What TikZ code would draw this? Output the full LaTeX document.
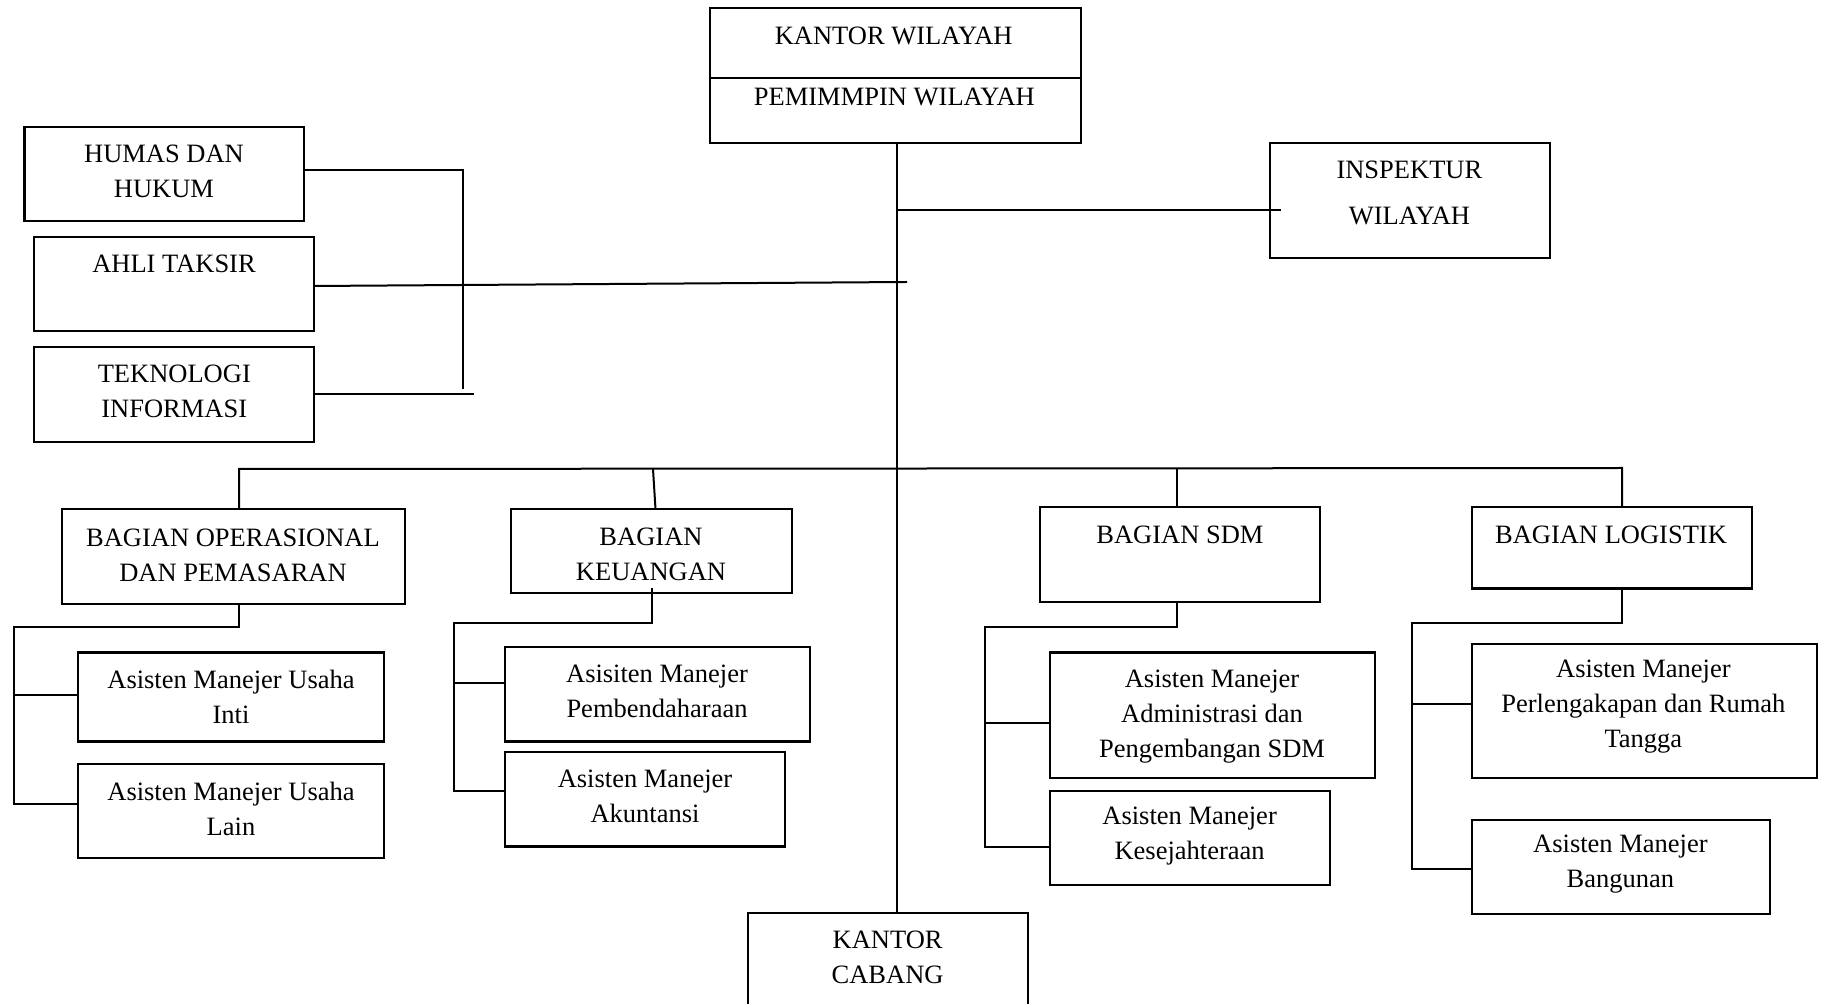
\documentclass[tikz,border=0pt]{standalone}
\usepackage{fontspec}
\setmainfont{Liberation Serif}
\tikzset{
 box/.style={draw, line width=1.1pt, inner sep=0pt, outer sep=0pt},
 txt/.style={inner sep=0pt, align=center, font=\fontsize{13.25}{17.5}\selectfont},
 widetxt/.style={inner sep=0pt, align=center, font=\fontsize{13.25}{23.25}\selectfont},
 conn/.style={line width=1pt},
}
\newcommand\obox[5]{\node[box, minimum width={(#4-#2)*0.5pt}, minimum height={(#5-#3)*0.5pt}] (#1) at ({(#2+#4)/2},{(#3+#5)/2}) {};}
\begin{document}
\begin{tikzpicture}[x=0.5pt,y=-0.5pt]
\useasboundingbox (0,0) rectangle (1824,1004);
\fill[white] (0,0) rectangle (1824,1004);
\clip (0,0) rectangle (1824,1004);
% boxes
\obox{kw}{710}{8}{1081}{143}
\draw[line width=1.1pt] (kw.west |- 0,78) -- (kw.east |- 0,78);
\obox{humas}{24.5}{127}{304}{221}
\obox{ahli}{34}{237}{314}{331}
\obox{tek}{34}{347}{314}{442}
\obox{insp}{1269.6}{143}{1550}{258}
\obox{op}{61.6}{509}{405}{603.7}
\obox{keu}{511}{509}{791.6}{592.8}
\obox{sdm}{1039.7}{507}{1319.6}{602}
\obox{log}{1471.6}{507}{1752}{588.5}
\obox{inti}{78}{652.5}{384}{741.5}
\obox{lain}{78}{763.8}{384}{858}
\obox{pemb}{505}{646.8}{810}{741.5}
\obox{akun}{505}{752}{785}{846.5}
\obox{adm}{1050}{652.5}{1375}{777.6}
\obox{kes}{1050}{790.6}{1329.6}{884.6}
\obox{perl}{1471.6}{643.6}{1817}{777.6}
\obox{bang}{1471.6}{819.6}{1769.8}{913.6}
\obox{kc}{748}{913}{1028}{1012}
% texts
\node[txt] (t-kw) at (893.7,35.8) {KANTOR WILAYAH};
\node[txt] (t-pw) at (894.4,97) {PEMIMMPIN WILAYAH};
\node[txt] (t-hu) at (164,171) {HUMAS DAN\\HUKUM};
\node[txt] (t-ah) at (174,263.8) {AHLI TAKSIR};
\node[txt] (t-te) at (174.3,391.3) {TEKNOLOGI\\INFORMASI};
\node[widetxt] (t-in) at (1409.4,192.8) {INSPEKTUR\\WILAYAH};
\node[txt] (t-op) at (233,555) {BAGIAN OPERASIONAL\\DAN PEMASARAN};
\node[txt] (t-ke) at (651,554) {BAGIAN\\KEUANGAN};
\node[txt] (t-sd) at (1179.9,534.8) {BAGIAN SDM};
\node[txt] (t-lo) at (1611,534.8) {BAGIAN LOGISTIK};
\node[txt] (t-it) at (231,697) {Asisten Manejer Usaha\\Inti};
\node[txt] (t-la) at (231,808.5) {Asisten Manejer Usaha\\Lain};
\node[txt] (t-pe) at (657,691) {Asisiten Manejer\\Pembendaharaan};
\node[txt] (t-ak) at (645,796) {Asisten Manejer\\Akuntansi};
\node[txt] (t-ad) at (1212,717) {Asisten Manejer\\Administrasi dan\\Pengembangan SDM};
\node[txt] (t-ks) at (1189.6,836.5) {Asisten Manejer\\Kesejahteraan};
\node[txt] (t-pl) at (1643.4,706.7) {Asisten Manejer\\Perlengakapan dan Rumah\\Tangga};
\node[txt] (t-bg) at (1620.4,863.8) {Asisten Manejer\\Bangunan};
\node[txt] (t-kc) at (887.6,957) {KANTOR\\CABANG};
% connectors
\draw[conn] (kw.south -| 897,0) -- (kc.north -| 897,0);
\coordinate (ie) at (1281,210);
\draw[conn] (kw.south |- 0,210) -- (ie);
\coordinate (hb) at (463,389);
\draw[conn] (humas.east |- 0,170) -- (463,170) -- (hb);
\coordinate (tb) at (474,394);
\draw[conn] (tek.east |- 0,394) -- (tb);
\coordinate (ab) at (907,282);
\draw[conn] (ahli.east |- 0,286) -- (ab);
\draw[conn] (op.north -| 239,0) -- (239,469) -- (1622,468) -- (log.north -| 1622,0);
\draw[conn] (653,469) -- (keu.north -| 655.5,0);
\draw[conn] (1177,468) -- (sdm.north -| 1177,0);
\draw[conn] (op.south -| 239,0) -- (239,627) -- (13.5,627) -- (13.5,804) -- (lain.west |- 0,804);
\draw[conn] (13.5,694.5) -- (inti.west |- 0,694.5);
\draw[conn] (keu.south -| 652,0) ++(0,-4.8) -- (652,623) -- (453.6,623) -- (453.6,791) -- (akun.west |- 0,791);
\draw[conn] (453.6,683) -- (pemb.west |- 0,683);
\draw[conn] (sdm.south -| 1177,0) -- (1177,627) -- (985.4,627) -- (985.4,846.5) -- (kes.west |- 0,846.5);
\draw[conn] (985.4,723) -- (adm.west |- 0,723);
\draw[conn] (log.south -| 1622,0) -- (1622,623) -- (1411.5,623) -- (1411.5,869.4) -- (bang.west |- 0,869.4);
\draw[conn] (1411.5,704.4) -- (perl.west |- 0,704.4);
\end{tikzpicture}
\end{document}
